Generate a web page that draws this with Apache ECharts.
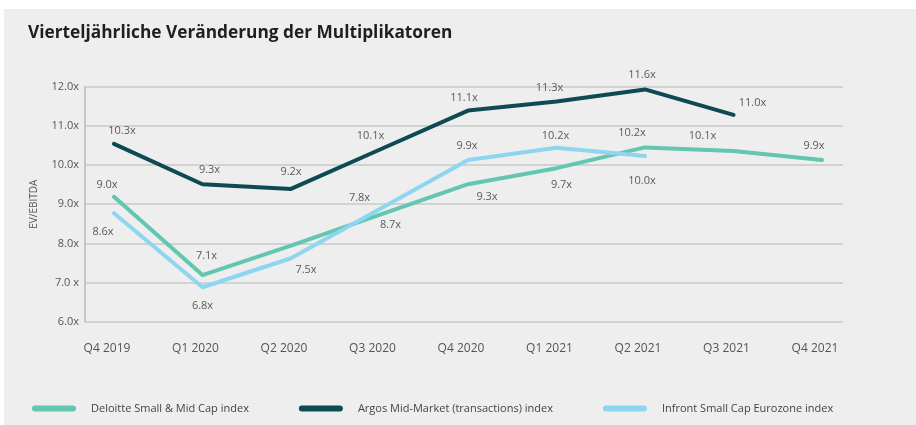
<!DOCTYPE html>
<html>
<head>
<meta charset="utf-8">
<script src="https://cdn.jsdelivr.net/npm/echarts@6/dist/echarts.min.js"></script>
<style>
  body { margin: 0; background: #ffffff; }
  #panel { position: absolute; left: 4px; top: 9px; width: 912px; height: 416px; background: #edeeed; }
  #chart { position: absolute; left: 0; top: 0; width: 916px; height: 425px; }
</style>
</head>
<body>
<div id="panel"></div>
<div id="chart"></div>
<script>
// Quartale
const quarters = ['Q4 2019', 'Q1 2020', 'Q2 2020', 'Q3 2020', 'Q4 2020', 'Q1 2021', 'Q2 2021', 'Q3 2021', 'Q4 2021'];
const yTickLabels = ['6.0x', '7.0 x', '8.0x', '9.0x', '10.0x', '11.0x', '12.0x'];

// Werte (Linienposition)
const deloitteValues = [9.19, 7.19, 7.94, 8.73, 9.51, 9.92, 10.45, 10.36, 10.13];
const argosValues = [10.54, 9.51, 9.39, 10.39, 11.39, 11.62, 11.93, 11.28, null];
const infrontValues = [8.77, 6.88, 7.62, 8.87, 10.13, 10.44, 10.23, null, null];

// Beschriftungen der Datenpunkte
const deloitteLabels = ['9.0x', '7.1x', '', '7.8x', '9.3x', '9.7x', '10.2x', '10.1x', '9.9x'];
const argosLabels = ['10.3x', '9.3x', '9.2x', '10.1x', '11.1x', '11.3x', '11.6x', '11.0x', ''];
const infrontLabels = ['8.6x', '6.8x', '7.5x', '8.7x', '9.9x', '10.2x', '10.0x', '', ''];

const seriesNames = ['Deloitte Small & Mid Cap index', 'Argos Mid-Market (transactions) index', 'Infront Small Cap Eurozone index'];
const colors = ['#62c6b1', '#0d4a52', '#8ed5f0'];

// Versatz der Beschriftung zum Punkt (px)
const deloitteOffsets = [[-7, -12], [4, -19], [0, 0], [-20, -17], [19, 13], [5, 17], [-13, -15], [-31, -15], [-8, -14]];
const argosOffsets = [[8, -13], [7, -14], [0, -17], [-9, -14], [-4, -13], [-7, -14], [-3, -15], [19, -12], [0, 0]];
const infrontOffsets = [[-11, 19], [0, 19], [15, 12], [11, 16], [-1, -14], [-1, -12], [-3, 25], [0, 0], [0, 0]];

const font = '"Open Sans", "Noto Sans", sans-serif';

function buildData(values, labels, offsets) {
  return values.map((v, i) => ({
    value: v,
    label: { show: !!labels[i], offset: offsets[i] }
  }));
}

function makeSeries(idx, values, labels, offsets) {
  return {
    name: seriesNames[idx],
    type: 'line',
    xAxisIndex: 1,
    yAxisIndex: 1,
    data: buildData(values, labels, offsets),
    symbol: 'circle',
    symbolSize: 1,
    showSymbol: true,
    showAllSymbol: true,
    itemStyle: { color: colors[idx] },
    lineStyle: { color: colors[idx], width: 4, cap: 'round', join: 'round' },
    label: {
      position: 'inside',
      fontFamily: font,
      fontSize: 11,
      color: '#5a5a5a',
      formatter: p => labels[p.dataIndex]
    },
    emphasis: { disabled: true },
    silent: true,
    z: idx === 1 ? 3 : 2
  };
}

const chart = echarts.init(document.getElementById('chart'));

const option = {
  backgroundColor: 'transparent',
  animation: false,
  title: {
    text: 'Vierteljährliche Veränderung der Multiplikatoren',
    left: 28,
    top: 25,
    padding: 0,
    textStyle: { fontFamily: font, fontSize: 17.3, fontWeight: 'bold', color: '#1f1f1f' }
  },
  legend: {
    left: 27,
    top: 398,
    itemWidth: 44,
    itemHeight: 6,
    itemGap: 50,
    icon: 'path://M3,0 H41 A3,3 0 0 1 41,6 H3 A3,3 0 0 1 3,0 Z',
    textStyle: { fontFamily: font, fontSize: 11, color: '#444', padding: [0, 0, 0, 10] },
    selectedMode: false,
    data: seriesNames
  },
  grid: [
    { left: 85, right: 73, top: 86.7, bottom: 103.3 },
    { left: 114, right: 94, top: 86.7, bottom: 103.3 }
  ],
  xAxis: [
    { gridIndex: 0, type: 'value', show: false },
    {
      gridIndex: 1,
      type: 'category',
      data: quarters,
      boundaryGap: false,
      axisLine: { show: false },
      axisTick: { show: false },
      axisLabel: {
        margin: 21,
        fontFamily: font,
        fontSize: 12,
        color: '#555',
        padding: [0, 14, 0, 0]
      }
    }
  ],
  yAxis: [
    {
      gridIndex: 0,
      type: 'value',
      min: 6,
      max: 12,
      interval: 1,
      name: 'EV/EBITDA',
      nameLocation: 'middle',
      nameRotate: 90,
      nameGap: 46,
      nameTextStyle: { fontFamily: font, fontSize: 10, color: '#555' },
      axisLine: { show: true, lineStyle: { color: '#c6c6c6', width: 2 } },
      axisTick: { show: false },
      axisLabel: {
        margin: 6,
        fontFamily: font,
        fontSize: 11,
        color: '#555',
        formatter: v => yTickLabels[Math.round(v - 6)]
      },
      splitLine: { show: true, lineStyle: { color: '#c8c8c8', width: 1.5 } }
    },
    { gridIndex: 1, type: 'value', min: 6, max: 12, show: false }
  ],
  series: [
    makeSeries(0, deloitteValues, deloitteLabels, deloitteOffsets),
    makeSeries(1, argosValues, argosLabels, argosOffsets),
    makeSeries(2, infrontValues, infrontLabels, infrontOffsets)
  ]
};

chart.setOption(option);
</script>
</body>
</html>
